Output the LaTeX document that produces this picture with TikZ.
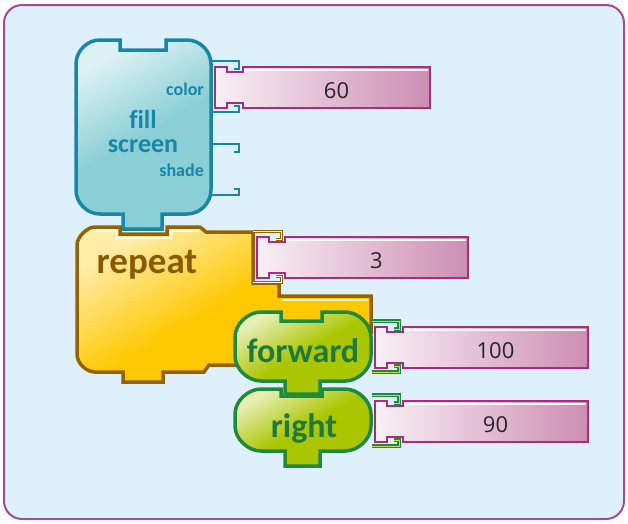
\documentclass[tikz,border=0pt]{standalone}
\usepackage{fontspec}
\setmainfont{Carlito}
\newfontfamily\numfont{Open Sans}
\usepackage{tikz}
\usetikzlibrary{calc}
\definecolor{bgblue}{RGB}{222,240,252}
\definecolor{bgframe}{RGB}{162,76,150}
\definecolor{fsedge}{RGB}{24,134,166}
\definecolor{fsfill}{RGB}{138,207,214}
\definecolor{rptedge}{RGB}{150,98,0}
\definecolor{rptfill}{RGB}{255,200,0}
\definecolor{rpttext}{RGB}{138,90,0}
\definecolor{grnedge}{RGB}{31,138,62}
\definecolor{grnfill}{RGB}{170,198,0}
\definecolor{grnlite}{RGB}{200,222,60}
\definecolor{grntext}{RGB}{30,122,58}
\definecolor{slotedge}{RGB}{174,42,124}
\definecolor{slotleft}{RGB}{249,240,245}
\definecolor{slotright}{RGB}{204,141,178}

\begin{document}
\begin{tikzpicture}[x=1pt,y=-1pt,
  frame/.style={draw=bgframe,line width=2pt,fill=bgblue,rounded corners=18pt},
  fsblock/.style={draw=fsedge,line width=3.5pt,top color=fsfill!30!white,bottom color=fsfill,middle color=fsfill,shading angle=30},
  rptblock/.style={draw=rptedge,line width=3.5pt,top color=rptfill!35!white,bottom color=rptfill,middle color=rptfill,shading angle=30},
  grnblock/.style={draw=grnedge,line width=3.5pt,top color=grnfill!30!white,bottom color=grnfill,middle color=grnfill,shading angle=30},
  shine/.style={draw=white,line width=1.5pt,opacity=.85},
  valslot/.style={draw=slotedge,line width=1.5pt,left color=slotleft,right color=slotright},
  fshook/.style={draw=fsedge,line width=2.5pt},
  rpthook/.style={draw=rptedge,double=white,double distance=1pt,line width=1pt},
  grnhook/.style={draw=grnedge,double=grnlite,double distance=1pt,line width=1.2pt},
  fstext/.style={text=fsedge,font=\bfseries\fontsize{26}{24}\selectfont,align=center,inner sep=0pt},
  socktext/.style={text=fsedge,font=\bfseries\fontsize{18}{20}\selectfont,anchor=east,inner sep=0pt},
  rpttxt/.style={text=rpttext,font=\bfseries\fontsize{37}{40}\selectfont,anchor=base,inner sep=0pt},
  grntxt/.style={text=grntext,font=\bfseries\fontsize{34}{38}\selectfont,anchor=base,inner sep=0pt},
  numtxt/.style={text=black!85,font=\numfont\fontsize{22}{24}\selectfont,anchor=base,inner sep=0pt}]

\path[use as bounding box] (0,0) rectangle (628,523);
\draw[frame] (4,5) rectangle (624,519);

\draw[rptblock] (120,227) -- (120,234) -- (167,234) -- (167,227)
  -- (200,227) -- (206,232) -- (253,232) -- (253,283) -- (279,283) -- (279,296)
  -- (371,296) -- (371,332) -- (300,332) -- (300,365) -- (209,365) -- (204,372)
  -- (163,372) -- (163,382) -- (123,382) -- (123,372)
  -- (95,372) .. controls (87,372) and (77,364) .. (77,354)
  -- (77,245) .. controls (77,237) and (87,227) .. (95,227) -- cycle;
\draw[shine] (94,231) -- (116,231) -- (116,238) -- (171,238) -- (171,231) -- (199,231);
\draw[shine] (282,300) -- (368,300);

\draw[fsblock] (120,40) -- (120,50) -- (166,50) -- (166,40)
  -- (187,40) .. controls (200,40) and (211,51) .. (211,64)
  -- (211,190) .. controls (211,203) and (200,214) .. (187,214)
  -- (162,214) -- (162,229) -- (123,229) -- (123,214)
  -- (100,214) .. controls (87,214) and (76,203) .. (76,190)
  -- (76,64) .. controls (76,51) and (87,40) .. (100,40) -- cycle;

\draw[grnblock] (281,389) -- (281,396) -- (322,396) -- (322,389)
  -- (345,389) .. controls (358,389) and (371,401) .. (371,414)
  -- (371,426) .. controls (371,439) and (358,451) .. (345,451)
  -- (320,451) -- (320,466) -- (285,466) -- (285,451)
  -- (261,451) .. controls (248,451) and (235,439) .. (235,426)
  -- (235,414) .. controls (235,401) and (248,389) .. (261,389) -- cycle;

\draw[grnblock] (281,312) -- (281,321) -- (322,321) -- (322,312)
  -- (345,312) .. controls (358,312) and (371,324) .. (371,337)
  -- (371,356) .. controls (371,369) and (358,381) .. (345,381)
  -- (320,381) -- (320,394) -- (285,394) -- (285,381)
  -- (261,381) .. controls (248,381) and (235,369) .. (235,356)
  -- (235,337) .. controls (235,324) and (248,312) .. (261,312) -- cycle;

\foreach \ex/\sl/\st/\hk in {212/215/67/fshook,212/215/150/fshook,253/257/237/rpthook,372/375/327/grnhook,372/375/401/grnhook}{
  \draw[\hk] (\ex,\st-6) -| (\sl+24,\st+2) -- (\sl+19,\st+2);
  \draw[\hk] (\ex,\st+45) -| (\sl+24,\st+39) -- (\sl+19,\st+39);
}

\foreach \sl/\st/\sr/\val/\nm in {215/67/430/60/colorval,257/237/468/3/timesval,375/327/588/100/stepval,375/401/588/90/angleval}{
  \draw[valslot] (\sl,\st) -- (\sl+12,\st) -- (\sl+12,\st+5) -- (\sl+28,\st+5) -- (\sl+28,\st)
    -- (\sr,\st) -- (\sr,\st+41) -- (\sl+28,\st+41) -- (\sl+28,\st+36) -- (\sl+12,\st+36)
    -- (\sl+12,\st+41) -- (\sl,\st+41) -- cycle;
  \draw[white,line width=1.2pt] (\sl+29,\st+3) -- (\sr-2,\st+3);
  \node[numtxt] (\nm) at ({(\sl+28+\sr)/2},\st+31) {\val};
}

\node[fstext] (fillscreen) at (143,131) {f\kern0pt ill\\screen};
\node[socktext] (colorlbl) at (204,89) {color};
\node[socktext] (shadelbl) at (204,170) {shade};
\node[rpttxt] (repeatlbl) at (147,273) {repeat};
\node[grntxt] (forwardlbl) at (303,362) {forward};
\node[grntxt] (rightlbl) at (304,437) {right};

\end{tikzpicture}
\end{document}
